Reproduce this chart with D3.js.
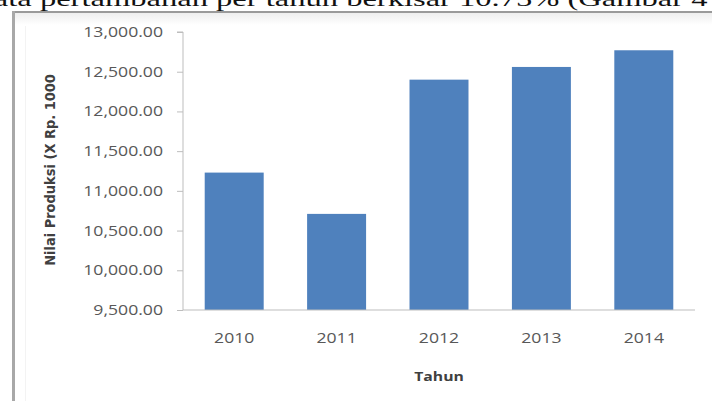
<!DOCTYPE html>
<html>
<head>
<meta charset="utf-8">
<script src="https://cdn.jsdelivr.net/npm/d3@7"></script>
<style>
  html, body { margin: 0; padding: 0; background: #fff; }
  svg { display: block; }
</style>
</head>
<body>
<svg id="chart" width="712" height="401"></svg>
<script>
// Production value per year (x Rp. 1000)
const years = ["2010", "2011", "2012", "2013", "2014"];
const values = [11230, 10710, 12400, 12560, 12770];
const yTicks = [9500, 10000, 10500, 11000, 11500, 12000, 12500, 13000];

const svg = d3.select("#chart");
const W = 712, H = 401;
const SX = 1.26; // horizontal glyph stretch used for chart texts

// Running text line above the figure
svg.append("text")
  .attr("transform", "translate(-17,6) scale(1.48,1)")
  .attr("font-family", "'Liberation Serif', 'Times New Roman', serif")
  .attr("font-size", 22)
  .attr("fill", "#111")
  .text("rata pertambahan per tahun berkisar 10.75% (Gambar 4");

// Chart frame (top and left edges) with a soft inner shade
const defs = svg.append("defs");
const g = defs.append("linearGradient").attr("id", "shade").attr("x1", 0).attr("x2", 0).attr("y1", 0).attr("y2", 1);
g.append("stop").attr("offset", 0).attr("stop-color", "#eeeeee");
g.append("stop").attr("offset", 1).attr("stop-color", "#ffffff");
svg.append("rect").attr("x", 12).attr("y", 12).attr("width", W).attr("height", H).attr("fill", "#fff");
svg.append("rect").attr("x", 15).attr("y", 13).attr("width", W).attr("height", 12).attr("fill", "url(#shade)");
svg.append("line").attr("x1", 12).attr("x2", W).attr("y1", 12).attr("y2", 12)
  .attr("stroke", "#9a9a9a").attr("stroke-width", 2);
svg.append("line").attr("x1", 13.5).attr("x2", 13.5).attr("y1", 11).attr("y2", H)
  .attr("stroke", "#a8a8a8").attr("stroke-width", 3);
svg.append("line").attr("x1", 25.5).attr("x2", 25.5).attr("y1", 26).attr("y2", H)
  .attr("stroke", "#f3f3f3").attr("stroke-width", 1);

const plot = { left: 183, right: 695, top: 32, bottom: 310 };

const x = d3.scaleBand().domain(years)
  .range([plot.left, plot.right]).paddingInner(0.424).paddingOuter(0.212);
const y = d3.scaleLinear().domain([9500, 13000]).range([plot.bottom, plot.top]);

// Bars
svg.append("g").selectAll("rect").data(years).join("rect")
  .attr("x", d => x(d))
  .attr("y", (d, i) => y(values[i]))
  .attr("width", x.bandwidth())
  .attr("height", (d, i) => y(9500) - y(values[i]))
  .attr("fill", "#4f81bd");

const fmt = d3.format(",.2f");
const font = "'Open Sans', 'Noto Sans', sans-serif";

// Stretch a tick label horizontally while keeping its anchor point
function stretch(sel) {
  sel.each(function () {
    const t = d3.select(this);
    const xv = +t.attr("x") || 0;
    t.attr("x", xv / SX).attr("transform", `scale(${SX},1)`);
  });
}

// Y axis
const yAxis = svg.append("g").attr("transform", `translate(${plot.left},0)`)
  .call(d3.axisLeft(y).tickValues(yTicks).tickFormat(fmt).tickSize(6).tickPadding(14));
yAxis.select(".domain").attr("stroke", "#bdbdbd").attr("d", `M-6,${plot.top}H0V${plot.bottom}`);
yAxis.selectAll(".tick line").attr("stroke", "#bdbdbd");
yAxis.selectAll(".tick text")
  .attr("font-family", font).attr("font-size", 14).attr("fill", "#585858")
  .call(stretch);

// X axis
const xAxis = svg.append("g").attr("transform", `translate(0,${plot.bottom})`)
  .call(d3.axisBottom(x).tickSize(0).tickPadding(23));
xAxis.select(".domain").attr("stroke", "#bdbdbd").attr("d", `M${plot.left},0H${plot.right}`);
xAxis.selectAll(".tick text")
  .attr("font-family", font).attr("font-size", 14).attr("fill", "#585858")
  .call(stretch);

// Axis titles
svg.append("text")
  .attr("transform", `translate(55,170) scale(1.1,1) rotate(-90)`)
  .attr("text-anchor", "middle")
  .attr("font-family", "'DejaVu Sans', sans-serif").attr("font-weight", "bold")
  .attr("font-size", 13).attr("fill", "#404040")
  .text("Nilai Produksi (X Rp. 1000");

svg.append("text")
  .attr("transform", `translate(439,381) scale(${SX},1)`)
  .attr("text-anchor", "middle")
  .attr("font-family", font).attr("font-weight", "bold")
  .attr("font-size", 12.5).attr("fill", "#404040")
  .text("Tahun");
</script>
</body>
</html>
